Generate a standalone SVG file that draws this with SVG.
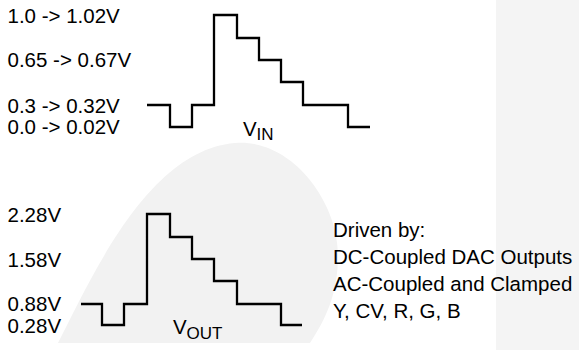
<svg xmlns="http://www.w3.org/2000/svg" width="579" height="350" viewBox="0 0 579 350">
  <style>
    .t { font-family: "Liberation Sans", Arial, sans-serif; font-size: 20.5px; fill: #000; }
    .sub { font-family: "Liberation Sans", Arial, sans-serif; font-size: 17px; fill: #000; }
    .wave { fill: none; stroke: #000; stroke-width: 2.3; stroke-linejoin: miter; stroke-linecap: butt; }
  </style>
  <rect x="0" y="0" width="579" height="350" fill="#ffffff"/>
  <rect id="panel" x="496" y="0" width="83" height="350" fill="#f4f4f4"/>
  <path id="watermark" d="M58,343 C95,270 150,150 235,143 C290,138 338,200 338,255 C338,295 325,320 310,343 Z" fill="#f2f2f2"/>

  <g id="connectors">
    <path id="vin-wave" class="wave" d="M147,105 H170 V127 H192 V105 H214 V15 H237 V38 H259 V60 H281 V82 H303 V105 H348 V127 H370"/>
    <path id="vout-wave" class="wave" d="M81,304 H102 V325 H124 V304 H147 V214 H170 V237 H192 V259 H214 V281 H237 V304 H281 V325 H302"/>
  </g>

  <g id="vin-labels">
    <text class="t" x="7.5" y="22.5">1.0 -&gt; 1.02V</text>
    <text class="t" x="7.5" y="67">0.65 -&gt; 0.67V</text>
    <text class="t" x="7.5" y="112.5">0.3 -&gt; 0.32V</text>
    <text class="t" x="7.5" y="134">0.0 -&gt; 0.02V</text>
  </g>
  <g id="vin-name">
    <text class="t" x="243" y="135.5">V</text>
    <text class="sub" x="256.5" y="139.5">IN</text>
  </g>

  <g id="vout-labels">
    <text class="t" x="7.5" y="221.5">2.28V</text>
    <text class="t" x="7.5" y="266.5">1.58V</text>
    <text class="t" x="7.5" y="311">0.88V</text>
    <text class="t" x="7.5" y="333">0.28V</text>
  </g>
  <g id="vout-name">
    <text class="t" x="173" y="334">V</text>
    <text class="sub" x="186.5" y="338.5">OUT</text>
  </g>

  <g id="driven-note">
    <text class="t" x="333" y="236.5">Driven by:</text>
    <text class="t" x="333" y="263.5">DC-Coupled DAC Outputs</text>
    <text class="t" x="333" y="290.5">AC-Coupled and Clamped</text>
    <text class="t" x="333" y="317.5">Y, CV, R, G, B</text>
  </g>
</svg>
